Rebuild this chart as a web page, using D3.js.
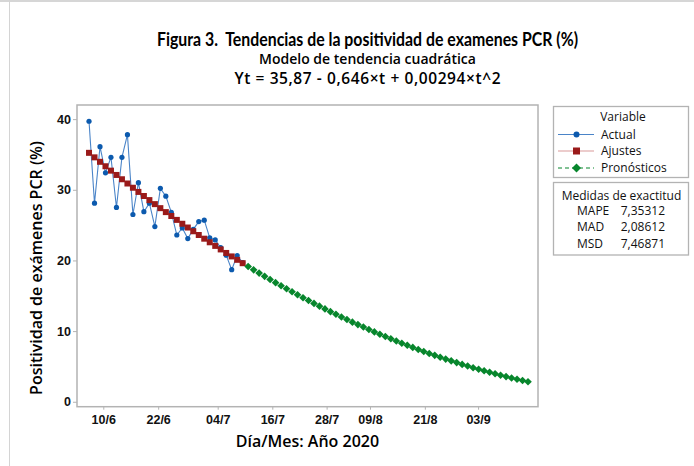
<!DOCTYPE html>
<html>
<head>
<meta charset="utf-8">
<script src="https://cdn.jsdelivr.net/npm/d3@7"></script>
<style>
  body { margin: 0; background: #fff; }
  svg { display: block; font-family: "Open Sans", "Noto Sans", sans-serif; }
</style>
</head>
<body>
<svg id="chart" width="694" height="466"></svg>
<script>
// Observed PCR positivity (%) per report, t = 1..29
const actual = [39.7, 28.1, 36.1, 32.4, 34.6, 27.5, 34.6, 37.8, 26.5, 31.0,
                26.9, 28.1, 24.8, 30.2, 29.1, 26.8, 23.6, 24.6, 23.1, 24.4,
                25.5, 25.7, 23.2, 22.9, 21.8, 20.75, 18.7, 20.7, 19.7];

// Fitted values of the quadratic trend, t = 1..29
const fits = [35.23, 34.59, 33.96, 33.33, 32.71, 32.10, 31.49, 30.89, 30.29, 29.70,
              29.12, 28.54, 27.97, 27.40, 26.84, 26.29, 25.74, 25.19, 24.66, 24.13,
              23.60, 23.08, 22.57, 22.06, 21.56, 21.06, 20.57, 20.09, 19.61];

// Forecasts, t = 30..81
const forecasts = [19.14, 18.67, 18.21, 17.75, 17.30, 16.86, 16.42, 15.99, 15.57, 15.15,
                   14.73, 14.33, 13.92, 13.53, 13.14, 12.75, 12.38, 12.00, 11.64, 11.27,
                   10.92, 10.57, 10.23, 9.89, 9.56, 9.23, 8.91, 8.60, 8.29, 7.99,
                   7.69, 7.40, 7.12, 6.84, 6.57, 6.30, 6.04, 5.79, 5.54, 5.29,
                   5.06, 4.82, 4.60, 4.38, 4.17, 3.96, 3.76, 3.56, 3.37, 3.18,
                   3.01, 2.83];

// Date stamps on the time index axis
const tickIndex  = [3.6, 13.6, 24.45, 34.4, 44.3, 52.2, 62.2, 71.9];
const tickLabels = ["10/6", "22/6", "04/7", "16/7", "28/7", "09/8", "21/8", "03/9"];
const yTicks = [0, 10, 20, 30, 40];

const legendNames = ["Actual", "Ajustes", "Pronósticos"];
const accuracyNames  = ["MAPE", "MAD", "MSD"];
const accuracyValues = ["7,35312", "2,08612", "7,46871"];

const svg = d3.select("#chart");
const C = { blue: "#0c5aae", blueLine: "#4a84c8", red: "#9a1a1a", redLine: "#d99a9a",
            green: "#07862c", frame: "#b3b3b3", text: "#111" };

const plot = { left: 77, right: 538, top: 105, bottom: 406.7 };

const x = d3.scaleLinear().domain([-1.19, 82.82]).range([plot.left, plot.right]);
const y = d3.scaleLinear().domain([-0.7, 42]).range([plot.bottom, plot.top]);

// page edges
svg.append("line").attr("x1", 0).attr("x2", 694).attr("y1", 1).attr("y2", 1)
   .attr("stroke", "#c8c8c8").attr("stroke-width", 1.5);
svg.append("line").attr("x1", 9.5).attr("x2", 9.5).attr("y1", 0).attr("y2", 466)
   .attr("stroke", "#d4d4d4").attr("stroke-width", 1);

// titles
const titles = svg.append("g").attr("fill", "#000").attr("text-anchor", "middle");
titles.append("text").attr("x", 367.5).attr("y", 46)
  .attr("font-family", "Lato, 'Open Sans', sans-serif")
  .attr("font-size", 18).attr("font-weight", 700)
  .attr("textLength", 421).attr("lengthAdjust", "spacingAndGlyphs")
  .style("white-space", "pre")
  .text("Figura 3.  Tendencias de la positividad de examenes PCR (%)");
titles.append("text").attr("x", 367.5).attr("y", 64)
  .attr("font-size", 14).attr("font-weight", 600)
  .text("Modelo de tendencia cuadrática");
titles.append("text").attr("x", 367.5).attr("y", 84)
  .attr("font-size", 15.5).attr("font-weight", 600)
  .attr("textLength", 266).attr("lengthAdjust", "spacing")
  .text("Yt = 35,87 - 0,646×t + 0,00294×t^2");

// axes
const xAxis = d3.axisBottom(x).tickValues(tickIndex)
  .tickFormat((d, i) => tickLabels[i]).tickSize(3).tickPadding(5);
const gx = svg.append("g").attr("transform", `translate(0,${plot.bottom})`).call(xAxis);
gx.select(".domain").remove();
gx.selectAll("line").attr("stroke", C.frame);
gx.selectAll("text").attr("font-size", 12.5).attr("font-weight", 600)
  .attr("fill", C.text).attr("font-family", "inherit");

const yAxis = d3.axisLeft(y).tickValues(yTicks).tickSize(4).tickPadding(2);
const gy = svg.append("g").attr("transform", `translate(${plot.left},0)`).call(yAxis);
gy.select(".domain").remove();
gy.selectAll("line").attr("stroke", C.frame);
gy.selectAll("text").attr("font-size", 12.5).attr("font-weight", 600)
  .attr("fill", C.text).attr("font-family", "inherit");

// frame
svg.append("rect").attr("x", plot.left).attr("y", plot.top)
  .attr("width", plot.right - plot.left).attr("height", plot.bottom - plot.top)
  .attr("fill", "none").attr("stroke", C.frame).attr("stroke-width", 1.5);

// axis titles
svg.append("text").attr("x", (plot.left + plot.right) / 2).attr("y", 446.5)
  .attr("text-anchor", "middle").attr("font-size", 16).attr("font-weight", 600)
  .attr("fill", "#000").text("Día/Mes: Año 2020");
svg.append("text").attr("transform", "translate(42,268) rotate(-90)")
  .attr("text-anchor", "middle").attr("font-size", 16).attr("font-weight", 600)
  .attr("fill", "#000").text("Positividad de exámenes PCR (%)");

// series
const actualPts = actual.map((v, i) => ({ t: i + 1, v }));
const fitPts = fits.map((v, i) => ({ t: i + 1, v }));
const fcPts = forecasts.map((v, i) => ({ t: fits.length + i + 1, v }));

const line = d3.line().x(d => x(d.t)).y(d => y(d.v));
svg.append("path").datum(actualPts).attr("d", line)
  .attr("fill", "none").attr("stroke", C.blueLine).attr("stroke-width", 1.1);
svg.append("g").selectAll("circle").data(actualPts).join("circle")
  .attr("cx", d => x(d.t)).attr("cy", d => y(d.v)).attr("r", 2.6).attr("fill", C.blue);

svg.append("path").datum(fitPts).attr("d", line)
  .attr("fill", "none").attr("stroke", C.redLine).attr("stroke-width", 1);
svg.append("g").selectAll("rect").data(fitPts).join("rect")
  .attr("x", d => x(d.t) - 3).attr("y", d => y(d.v) - 3)
  .attr("width", 6).attr("height", 6).attr("fill", C.red);

const diamond = "M0,-3.8L3.8,0L0,3.8L-3.8,0Z";
svg.append("g").selectAll("path").data(fcPts).join("path")
  .attr("transform", d => `translate(${x(d.t)},${y(d.v)})`)
  .attr("d", diamond).attr("fill", C.green);

// legend: series
const lg = svg.append("g").attr("font-size", 12).attr("fill", C.text);
lg.append("rect").attr("x", 553.5).attr("y", 106.5).attr("width", 135).attr("height", 71)
  .attr("fill", "#fff").attr("stroke", C.frame).attr("stroke-width", 1.3);
lg.append("text").attr("x", 623).attr("y", 121).attr("text-anchor", "middle").text("Variable");

const rowY = [134.5, 151, 168];
const swatch = [
  { color: C.blue, lineColor: C.blueLine, dash: null, shape: "circle" },
  { color: C.red, lineColor: C.redLine, dash: null, shape: "square" },
  { color: C.green, lineColor: C.green, dash: "4,3", shape: "diamond" }
];
legendNames.forEach((name, i) => {
  const s = swatch[i], yy = rowY[i];
  lg.append("line").attr("x1", 558).attr("x2", 594).attr("y1", yy).attr("y2", yy)
    .attr("stroke", s.lineColor).attr("stroke-width", 1.2)
    .attr("stroke-dasharray", s.dash);
  if (s.shape === "circle") {
    lg.append("circle").attr("cx", 576.5).attr("cy", yy).attr("r", 3).attr("fill", s.color);
  } else if (s.shape === "square") {
    lg.append("rect").attr("x", 573).attr("y", yy - 3.5).attr("width", 7).attr("height", 7)
      .attr("fill", s.color);
  } else {
    lg.append("path").attr("transform", `translate(576.5,${yy})`)
      .attr("d", "M0,-4.5L4.5,0L0,4.5L-4.5,0Z").attr("fill", s.color);
  }
  lg.append("text").attr("x", 601).attr("y", yy + 4).text(name);
});

// legend: accuracy measures
lg.append("rect").attr("x", 553.5).attr("y", 182.5).attr("width", 135).attr("height", 72.5)
  .attr("fill", "#fff").attr("stroke", C.frame).attr("stroke-width", 1.3);
lg.append("text").attr("x", 621.5).attr("y", 199.5).attr("text-anchor", "middle")
  .text("Medidas de exactitud");
const accY = [215, 231, 248];
accuracyNames.forEach((name, i) => {
  lg.append("text").attr("x", 577).attr("y", accY[i]).text(name);
  lg.append("text").attr("x", 665).attr("y", accY[i]).attr("text-anchor", "end")
    .text(accuracyValues[i]);
});
</script>
</body>
</html>
